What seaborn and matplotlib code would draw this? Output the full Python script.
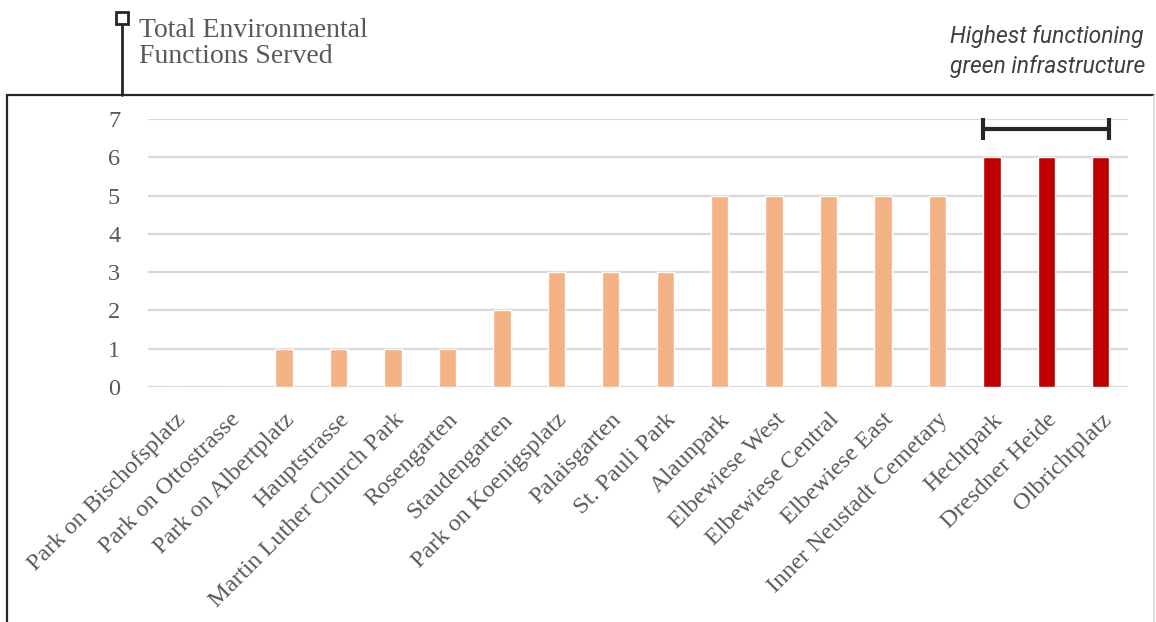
import matplotlib
matplotlib.use("Agg")
import matplotlib.pyplot as plt
from matplotlib.lines import Line2D
import seaborn as sns
import pandas as pd

# Green spaces and the number of environmental functions each one serves
parks = [
    "Park on Bischofsplatz", "Park on Ottostrasse", "Park on Albertplatz",
    "Hauptstrasse", "Martin Luther Church Park", "Rosengarten",
    "Staudengarten", "Park on Koenigsplatz", "Palaisgarten", "St. Pauli Park",
    "Alaunpark", "Elbewiese West", "Elbewiese Central", "Elbewiese East",
    "Inner Neustadt Cemetary", "Hechtpark", "Dresdner Heide", "Olbrichtplatz",
]
functions = [0, 0, 1, 1, 1, 1, 2, 3, 3, 3, 5, 5, 5, 5, 5, 6, 6, 6]
y_ticks = [0, 1, 2, 3, 4, 5, 6, 7]
top_group = ["Hechtpark", "Dresdner Heide", "Olbrichtplatz"]

ORANGE = "#F4B183"
RED = "#C00000"
TEXT = "#595959"
GRID = "#D9D9D9"
DARK = "#262626"

df = pd.DataFrame({"park": parks, "functions": functions})
df["group"] = ["top" if p in top_group else "other" for p in parks]

sns.set_theme(style="white")
serif = ["Liberation Serif", "DejaVu Serif"]
sans = ["Roboto", "DejaVu Sans"]

fig = plt.figure(figsize=(11.56, 6.22), dpi=100)
W, H = 1156, 622
ax = fig.add_axes([148 / W, 1 - 387 / H, (1128 - 148) / W, (387 - 119) / H])

sns.barplot(data=df, x="park", y="functions", hue="group",
            palette={"other": ORANGE, "top": RED}, width=0.32,
            dodge=False, legend=False, ax=ax, saturation=1)

ax.set_ylim(0, 7)
ax.set_xlim(-0.5, len(parks) - 0.5)
ax.set_yticks(y_ticks)
ax.yaxis.grid(True, color=GRID, linewidth=1.6)
ax.set_axisbelow(True)
for s in ax.spines.values():
    s.set_visible(False)
ax.set_xlabel("")
ax.set_ylabel("")
ax.tick_params(axis="both", length=0)
ax.tick_params(axis="y", pad=20)
ax.set_yticklabels([str(v) for v in y_ticks], fontsize=17.5, color=TEXT,
                   family=serif)
ax.set_xticks(range(len(parks)))
ax.set_xticklabels(parks, rotation=45, ha="right", va="top",
                   rotation_mode="anchor", fontsize=17.5, color=TEXT,
                   family=serif)
ax.tick_params(axis="x", pad=16)

# Bracket spanning the highest-scoring sites
first = parks.index(top_group[0])
last = parks.index(top_group[-1])
mid = (first + last) / 2
half = (last - first) / 2 + 0.16
ax.errorbar([mid], [6.74], xerr=[[half], [half]], fmt="none",
            ecolor=DARK, elinewidth=3, capsize=8, capthick=3, clip_on=False)

# Frame around the chart area
fig.add_artist(Line2D([7 / W, 1154 / W], [1 - 95 / H, 1 - 95 / H],
                      color=DARK, linewidth=1.6))
fig.add_artist(Line2D([7 / W, 7 / W], [0, 1 - 95 / H],
                      color=DARK, linewidth=1.6))
fig.add_artist(Line2D([1154 / W, 1154 / W], [0, 1 - 95 / H],
                      color=GRID, linewidth=1.2))

# Axis title with a pin marker
fig.add_artist(Line2D([122 / W, 122 / W], [1 - 95 / H, 1 - 22 / H],
                      color=DARK, linewidth=2))
fig.add_artist(Line2D([122 / W], [1 - 18 / H], marker="s", markersize=8,
                      markerfacecolor="white", markeredgecolor=DARK,
                      markeredgewidth=2))
fig.text(139 / W, 1 - 37 / H, "Total Environmental", ha="left",
         va="baseline", fontsize=20, color=TEXT, family=serif)
fig.text(139 / W, 1 - 63 / H, "Functions Served", ha="left",
         va="baseline", fontsize=20, color=TEXT, family=serif)

fig.text(950 / W, 1 - 43 / H, "Highest functioning", ha="left",
         va="baseline", fontsize=16.5, color="#404040", family=sans,
         style="italic")
fig.text(950 / W, 1 - 73 / H, "green infrastructure", ha="left",
         va="baseline", fontsize=16.5, color="#404040", family=sans,
         style="italic")

fig.savefig("out.png", dpi=100)
